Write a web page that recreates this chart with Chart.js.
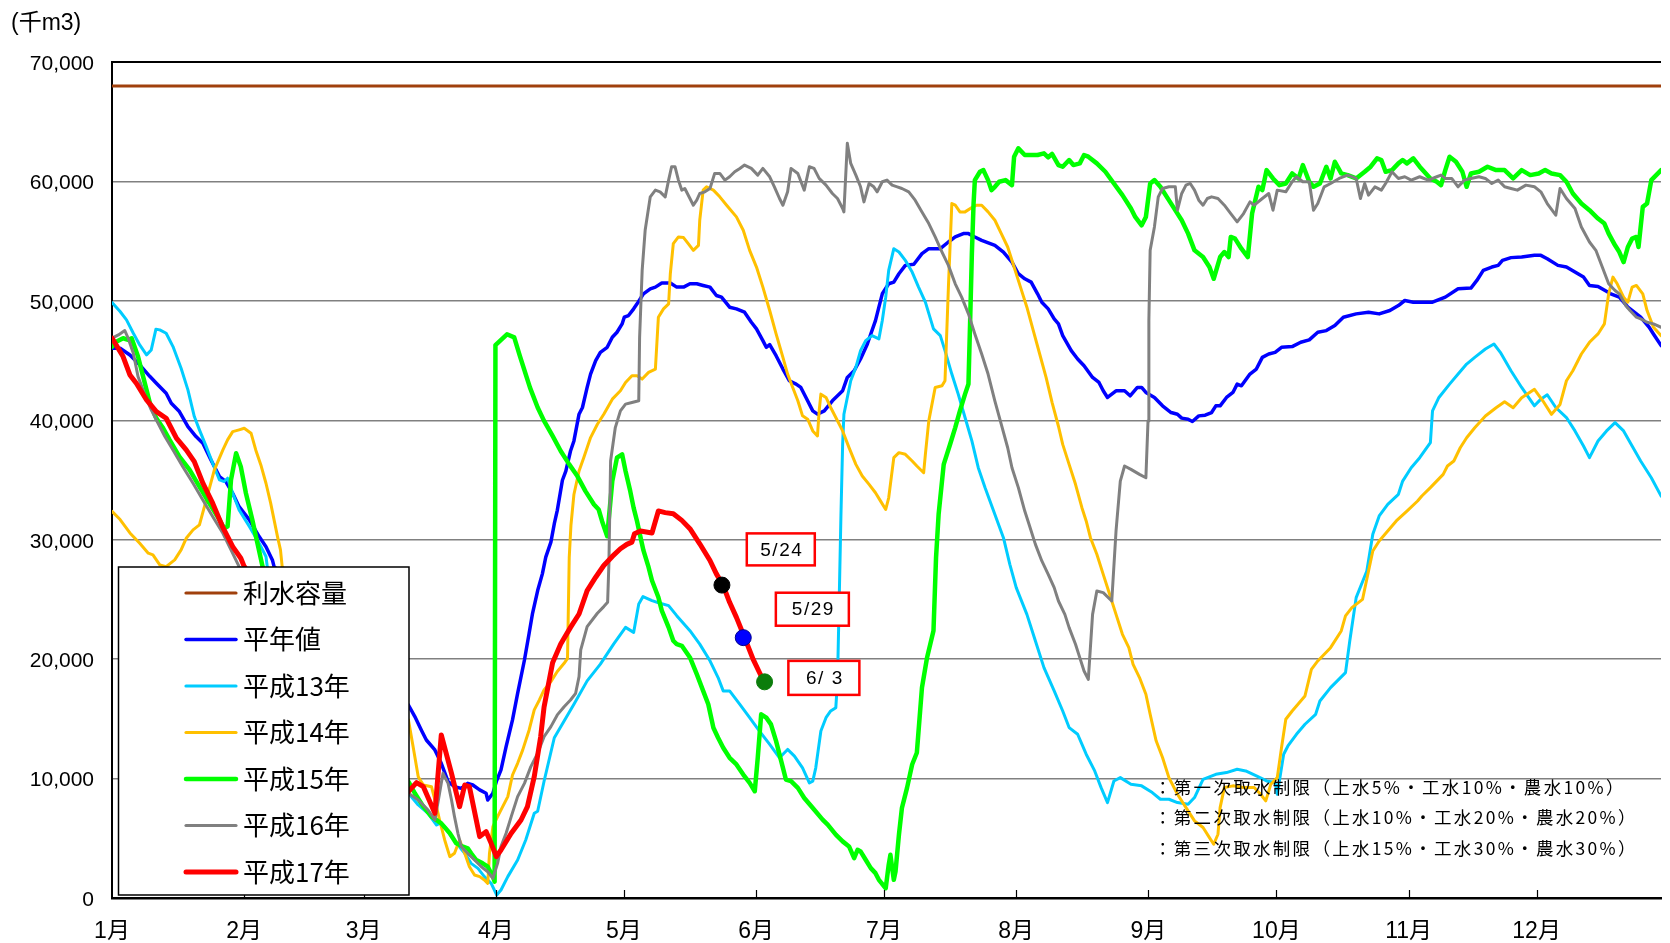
<!DOCTYPE html>
<html><head><meta charset="utf-8">
<script src="https://cdn.jsdelivr.net/npm/chart.js@4.4.1/dist/chart.umd.min.js"></script>
<style>html,body{margin:0;padding:0;background:#fff;overflow:hidden}canvas{display:block}</style>
</head><body>
<canvas id="c" width="1670" height="943"></canvas>
<script>
// ---- axis data ----
const monthStarts = [0,31,59,90,120,151,181,212,243,273,304,334];
const monthLabels = ['1月','2月','3月','4月','5月','6月','7月','8月','9月','10月','11月','12月'];
const yTicks = [0,10000,20000,30000,40000,50000,60000,70000];

// ---- series: [day of year, 千m3] ----
const capacity = [[0,68000],[363.2,68000]];
const normalYear = [[0,46030],[1.9,46030],[4.2,45470],[6.5,44640],[8.9,43660],[10.4,43100],[12.7,42270],[13.9,41430],[15.8,40730],[17.8,39470],[19.7,38640],[21.3,38080],[23.2,36680],[25.2,35290],[26.7,34870],[28.3,33890],[29.8,32770],[32.2,31660],[34.5,30260],[36.1,29420],[37.6,28310],[38,27750],
[69.5,16160],[71,15190],[72.6,14010],[73.7,13230],[75.7,12400],[77.2,11280],[78.8,9740],[80.3,9320],[81.9,9180],[83.4,9600],[84.6,9460],[86.2,9050],[87.7,8770],[88.1,8210],[89.3,8770],[90.1,9740],[91.2,10720],[92.4,12670],[93.9,14910],[95.1,17140],[96.7,19930],[97.8,22170],[98.6,23840],[99.8,25740],[100.9,27140],[101.7,28540],[102.9,29800],[103.7,31340],[104.4,32460],[105.6,34980],[106.4,35750],[107.5,37430],[108.3,38270],[109.5,40510],[110.3,41070],[111.4,42750],[112.2,43870],[113.4,44990],[114.5,45690],[116.1,46110],[117.3,46950],[118.4,47370],[119.6,48070],[120.1,48630],[121.1,48770],[122.3,49330],[123.1,49750],[124.6,50590],[126.2,51010],[127.4,51150],[128.9,51490],[130.9,51490],[132.4,51150],[134,51150],[135.5,51430],[137.1,51430],[138.6,51290],[140.2,51150],[141.7,50450],[142.9,50310],[144.8,49470],[146.4,49330],[148.3,49050],[149.9,48210],[151.1,47650],[152.6,46670],[153.4,46110],[154.2,46340],[155.7,45410],[157.3,44290],[158.8,43310],[160.4,43030],[161.5,42750],[162.7,41910],[164.3,40790],[165.4,40510],[167,40790],[168.9,41630],[171.3,42470],[172.4,43590],[174,44150],[175.5,45130],[177.1,46390],[177.9,47230],[179,48350],[179.8,49470],[180.6,50590],[182.1,51430],[183.3,51570],[184.5,52270],[186,52970],[188,53060],[189.9,53950],[191.5,54370],[194.2,54370],[196.1,54930],[197.7,55350],[199.6,55630],[200.8,55630],[202.3,55350],[203.9,55070],[207,54650],[209,54090],[211,53250],[212.5,52270],[214,51850],[215.5,51570],[217,50590],[218,49890],[219.5,49330],[220.9,48490],[221.9,48070],[222.9,47090],[224.9,45830],[226.4,45130],[227.9,44570],[229.9,43590],[231.4,43170],[232.4,42470],[233.4,41910],[235.4,42470],[237.4,42470],[238.7,42050],[240.4,42750],[241.4,42750],[242.4,42330],[244.4,41910],[246.3,41210],[248.3,40650],[249.8,40510],[250.8,40180],[252.3,40090],[253.3,39900],[254.8,40370],[256.3,40430],[257.8,40650],[258.8,41210],[259.8,41210],[261.3,41910],[262.8,42330],[263.8,43030],[264.8,42890],[266.8,43870],[268.3,44290],[269.7,45270],[271.2,45550],[272.7,45690],[274.2,46110],[276.7,46170],[278.7,46530],[280.7,46730],[282.7,47370],[284.7,47510],[286.7,47930],[288.7,48630],[291.7,48910],[294.6,49050],[297.1,48910],[299.6,49190],[301.6,49610],[303.1,50030],[305.1,49890],[309.6,49890],[312.6,50310],[315.6,51010],[318.6,51070],[320,51710],[321.5,52550],[323.5,52830],[325,52970],[326,53390],[328,53620],[330.5,53670],[333.5,53810],[335,53810],[336.5,53530],[339,52970],[341,52830],[343,52410],[345,51990],[346.4,51290],[348.4,51210],[351.4,50590],[353.4,50310],[355.4,49470],[358.4,48630],[360.4,47790],[361.4,47230],[363.2,46250]];
const h13 = [[0,49860],[1.9,49110],[3.4,48410],[5,47290],[6.5,46310],[8.1,45480],[9.2,45890],[10.3,47630],[11.2,47570],[12.7,47290],[14.3,46170],[16.2,44360],[17.8,42550],[19.3,40310],[20.5,39200],[22.1,37800],[23.6,36400],[25.2,35010],[26.3,34870],[27.1,35150],[28.3,33890],[29.8,32500],[32.2,31100],[34.5,29700],[36.1,28590],[36.4,27750],
[69.5,8770],[71.8,7790],[74.1,7090],[76.1,6110],[76.8,6250],[78,5970],[79.6,5140],[81.1,4440],[82.7,3740],[84.2,2900],[85.8,2480],[87.3,1790],[88.9,1230],[90.2,250],[91.2,670],[92.8,1790],[95.1,3180],[97,4860],[99,7090],[99.8,7260],[101.3,9780],[103.7,13420],[106,14820],[108.3,16220],[111.4,18180],[114.5,19580],[117.6,21260],[120.4,22660],[122.3,22240],[123.5,24620],[124.5,25240],[126.6,24900],[128.5,24680],[130.5,24480],[132.4,23640],[135.5,22380],[137.8,21260],[140.2,19860],[142.1,18460],[143.3,17340],[144.8,17340],[147.2,16220],[149.5,15100],[151.8,13980],[154.2,12860],[156.5,11740],[158.4,12440],[160,11880],[161.9,10900],[163.5,9640],[164.3,9780],[165,10900],[166.2,13980],[167.4,15100],[168.5,15660],[169.7,15940],[170.1,18180],[170.5,25000],[170.9,32000],[171.3,38000],[171.6,40510],[173.2,43310],[174.4,44430],[175.5,45830],[176.7,46670],[178.2,47090],[179.8,46810],[180.6,48350],[181.4,50310],[182.1,52550],[183.3,54370],[184.5,54090],[186,53390],[187.6,52410],[189.1,51150],[190.7,49890],[192.6,47650],[194.2,47090],[195.3,45830],[196.9,43870],[198.4,42190],[200,40230],[201.6,38270],[203.1,36030],[204.7,34350],[207,32110],[209,30170],[210.5,27940],[212,25990],[214.5,23750],[216.5,21520],[218.5,19290],[220.9,17340],[222.9,15660],[224.4,14270],[226.4,13710],[228.4,12040],[230.4,10640],[231.9,9240],[233.4,7990],[234.9,9800],[236.4,10080],[238.9,9530],[241.4,9390],[243.9,8830],[245.8,8270],[247.8,8270],[249.8,7990],[252.3,7850],[253.8,8410],[255.8,9940],[258.8,10360],[261.3,10500],[263.8,10780],[265.8,10640],[268.3,10220],[270.7,9800],[272.7,9670],[273.2,8690],[274.7,12040],[275.7,12730],[277.7,13710],[279.7,14550],[282.2,15380],[283.2,16500],[285.7,17620],[289.2,18870],[290.2,21520],[291.7,25150],[294.2,27380],[295.6,30450],[297.1,31990],[299.1,32960],[301.6,33800],[302.6,34910],[304.6,36030],[306.6,36870],[309.1,38130],[309.6,40790],[311.1,41910],[313.6,43030],[315.6,43870],[317.6,44710],[319.5,45270],[322,45970],[324,46390],[325.5,45690],[328,44150],[330.5,42750],[333.5,41210],[335,41770],[336.5,42140],[338.5,41070],[341,40230],[343,39110],[345,37850],[346.4,36870],[348.4,38270],[350.4,39110],[352.4,39810],[354.4,39110],[356.4,37850],[358.4,36590],[360.9,35190],[363.2,33650]];
const h14 = [[0,32380],[1.9,31690],[4.2,30570],[6.5,29700],[8.5,28870],[9.6,28730],[11.2,27890],[12.7,27750],[14.7,28310],[16.2,29150],[17.4,30120],[19,30820],[20.5,31240],[22.1,33330],[24,35850],[26,37520],[27.1,38360],[28.3,39050],[29.8,39200],[31,39330],[32.6,38920],[33.7,37520],[34.9,36260],[36.1,34730],[37.2,33060],[38,31660],[38.8,30260],[39.5,29150],[39.9,27750],
[69.5,14910],[70.6,12670],[71.8,10160],[73,9460],[74.9,9320],[75.7,8210],[76.8,6530],[78,4860],[79.2,3460],[80.3,3740],[81.5,4860],[82.7,3740],[83.8,2620],[85,1930],[86.2,1790],[87.3,1510],[88.1,1230],[88.5,3740],[89.3,5970],[90.4,6810],[91.6,7650],[92.8,8490],[93.9,10300],[95.1,11280],[96.3,12400],[97.8,14070],[99,15750],[100.2,16580],[101.3,17420],[102.9,18120],[104.4,18960],[106,19650],[106.8,20070],[107.2,28500],[107.6,31200],[108.3,33790],[109.5,35750],[110.6,36870],[112.2,38550],[113.8,39670],[115.3,40510],[117.3,41770],[119.2,42470],[120.4,43170],[121.9,43730],[123.1,43730],[124.3,43450],[125.8,44010],[127.4,44290],[128.1,48630],[129.3,49330],[130.5,49750],[130.9,52270],[131.6,54790],[132.8,55350],[134,55300],[135.1,54790],[136.3,54230],[137.5,54650],[137.8,56750],[138.6,59270],[139.4,59550],[141,59270],[142.5,58710],[144.1,58010],[146.4,57030],[148,55910],[149.5,54230],[151.1,52830],[152.6,51150],[154.2,49190],[155.7,47230],[157.3,45270],[158.4,43870],[159.6,42750],[160.8,41630],[161.9,40370],[163.1,40090],[164.3,39110],[165.4,38690],[165.8,40790],[166.2,42190],[167.4,41910],[168.5,41070],[169.7,40230],[171.3,39110],[172.8,37710],[174.4,36310],[175.9,35330],[177.5,34630],[179,33930],[180.2,33230],[181.4,32530],[182.1,33510],[183.3,36870],[184.5,37290],[186,37150],[187.6,36590],[188.7,36170],[190.3,35610],[190.7,37150],[191.5,39950],[193,42750],[194.6,42890],[195.3,43310],[196.1,51150],[196.9,58150],[197.7,58010],[198.8,57450],[200,57450],[201.6,57820],[202.7,58010],[203.9,58010],[205.4,57450],[207,56750],[208.5,55630],[210,54510],[211.5,52830],[213,51150],[214.5,49470],[216,47510],[217.5,45550],[219,43590],[220.4,41500],[221.9,39500],[222.9,37980],[224.4,36310],[225.9,34640],[227.4,32680],[228.4,31570],[229.4,30170],[230.9,28780],[232.4,27100],[233.9,25430],[235.4,23750],[236.9,22080],[238.4,20960],[239.4,19570],[240.9,18460],[242.4,17060],[243.4,15390],[244.8,13160],[246.3,11760],[247.8,10080],[249.8,8690],[251.8,7570],[253.8,6460],[255.8,5900],[257.3,5060],[258.3,4500],[259.3,5340],[259.8,7570],[260.8,9250],[262.8,9390],[265.3,9250],[267.8,9250],[269.3,8690],[270.5,8130],[271.7,9530],[273.2,10080],[274.2,12590],[275.2,14970],[276.7,15660],[278.7,16500],[279.7,16920],[281.2,19150],[282.7,19850],[285.7,20960],[288.2,22360],[289.2,23620],[290.7,24310],[293.2,25010],[294.6,27380],[295.6,29060],[297.1,29890],[299.1,30730],[301.1,31570],[303.6,32400],[306.1,33240],[307.1,33660],[309.1,34360],[312.1,35470],[313.1,36170],[314.6,36590],[316.1,37700],[317.6,38540],[319.5,39380],[322,40360],[324.5,41050],[326.5,41550],[328.5,41050],[330.5,41890],[333.5,42590],[335.5,41610],[337.5,40500],[339.5,41330],[341,43310],[342.5,44150],[344.5,45550],[346.4,46530],[348.4,47230],[349.9,48070],[350.9,50590],[351.9,51990],[352.9,51430],[354.4,50310],[355.4,49890],[356.4,51150],[357.4,51290],[358.9,50590],[359.9,49190],[361.4,47790],[363.2,47090]];
const h15 = [[0,46170],[1.1,46590],[2.6,46870],[3.8,46730],[4.6,46870],[6.1,45340],[7.3,43660],[8.9,41430],[10.4,40170],[12,39330],[13.5,38360],[15.8,36960],[18.2,35850],[20.5,34450],[22.8,33060],[25.2,31660],[26.3,30960],[27.1,31100],[27.9,35010],[29.1,37240],[30.2,36120],[31.4,33890],[32.9,31660],[34.1,29700],[35.3,27750],
[69.5,9740],[71,8770],[73,7650],[74.9,6810],[77.2,6250],[79.2,5420],[80.7,4580],[82.3,4300],[83.4,4160],[84.2,3740],[85.4,3180],[86.9,2900],[88.1,2620],[89.3,1790],[89.7,1370],[89.9,46300],[92.6,47200],[94.3,46940],[95.6,45420],[98,42730],[99.8,41070],[101.3,39950],[103.3,38690],[105.2,37430],[107.2,36310],[109.1,35330],[111,34070],[113,32950],[114.1,32530],[114.9,31550],[116.1,30290],[117.3,34910],[118.4,36870],[119.6,37150],[120.4,35750],[121.5,34070],[122.3,32670],[123.1,31550],[123.9,30220],[124.6,29100],[125.8,27700],[126.6,26580],[128.1,25180],[128.9,24060],[130.5,22660],[131.6,21540],[132.4,21260],[133.6,21120],[135.5,20140],[137.1,18740],[138.6,17340],[139.8,16220],[141,14260],[142.1,13420],[143.3,12580],[144.8,11740],[146.4,11180],[148,10340],[149.5,9640],[150.7,8940],[151.4,11740],[152.2,15380],[153.4,15100],[154.5,14540],[155.7,13140],[156.9,11460],[158,9920],[159.2,9780],[160.8,9220],[162.3,8380],[164.3,7540],[166.6,6560],[167.8,6140],[169.7,5300],[171.3,4740],[172.8,4320],[174,3340],[174.8,4040],[175.5,3900],[176.7,3200],[177.9,2500],[179,2080],[179.8,1520],[181.4,820],[182.1,2780],[182.5,3620],[183.3,1520],[183.7,2220],[184.5,5300],[185.2,7540],[186.4,9220],[187.6,11180],[188.7,12160],[189.9,17620],[191.1,20140],[192.6,22380],[193.2,28500],[193.8,32110],[195,36310],[196.5,37990],[197.7,39390],[198.8,40790],[200,42190],[200.8,43030],[201.2,48350],[201.6,53950],[202,58150],[202.3,60110],[203.5,60810],[204.3,60950],[205.4,60110],[206.2,59270],[207,59550],[208,59970],[209.5,60110],[211,59690],[211.5,62070],[212.5,62770],[214,62210],[217,62210],[218.5,62350],[219.5,62020],[220.4,62300],[221.9,61370],[222.9,61230],[224.4,61790],[225.4,61370],[226.9,61510],[227.9,62210],[228.9,62070],[230.9,61510],[232.9,60810],[234.9,59830],[236.9,58850],[238.9,57730],[239.9,57030],[241.4,56330],[242.4,57030],[243.4,59830],[244.4,60110],[245.8,59550],[247.3,58710],[248.8,57870],[250.8,56750],[252.3,55630],[253.8,54230],[255.8,53670],[257.3,52830],[258.3,51850],[259.8,53670],[260.8,54090],[261.8,53670],[262.3,55350],[263.3,55210],[264.8,54370],[266.3,53670],[267.3,57310],[268.8,59550],[269.7,59270],[270.7,60950],[272.2,60250],[273.7,59690],[275.2,59830],[276.7,60670],[278.2,60250],[279.2,61370],[280.7,59970],[281.7,59550],[283.2,59830],[284.7,61230],[285.7,60250],[286.7,61650],[288.2,60670],[289.7,60530],[291.7,60250],[293.7,60810],[295.1,61230],[296.6,61930],[297.6,61790],[298.6,60810],[300.1,60950],[301.6,61510],[302.6,61790],[303.6,61510],[305.1,61930],[306.6,61230],[309.1,60250],[310.6,59970],[311.6,59690],[312.6,60950],[313.6,62070],[315.1,61650],[316.6,60810],[317.6,59550],[318.6,60670],[320.5,60810],[322.5,61230],[324.5,60950],[326.5,60950],[328.5,60250],[330.5,60950],[332.5,60530],[334.5,60670],[336,60950],[337.5,60670],[339.5,60530],[341,59970],[342.5,58990],[344.5,58150],[346.4,57590],[348.4,56890],[349.9,56470],[350.9,55630],[352.4,54650],[353.4,54090],[354.4,53250],[355.4,54510],[356.4,55210],[357.4,55350],[357.9,54510],[358.9,57870],[359.9,58150],[360.9,60110],[363.2,60950]];
const h16 = [[0,46870],[1.5,47150],[3,47510],[3.8,46870],[5,45620],[6.1,43660],[7.7,42130],[9.2,40870],[10.8,39750],[12.4,38640],[14.3,37520],[16.6,36120],[19,34730],[21.3,33330],[23.6,31940],[26,30540],[27.9,29150],[29.8,27750],
[69.5,8770],[71.8,8210],[74.1,7370],[75.7,6530],[76.8,8770],[77.6,10440],[78.8,9600],[79.6,8210],[80.3,6810],[81.1,5420],[81.9,4300],[83.4,3740],[85,3180],[86.6,2620],[88.1,2200],[89.3,1650],[90.4,2900],[91.2,4300],[92.4,5420],[93.6,6810],[95.1,8490],[96.7,9600],[98.2,11000],[99.8,12120],[101.3,13510],[102.9,14350],[104.4,15330],[106,16020],[107.5,16580],[108.7,17140],[109.5,18540],[109.9,20770],[111.4,22720],[113.8,23840],[115.3,24400],[116.2,24760],[116.5,27980],[116.9,36590],[118,39390],[119.2,40790],[120.4,41350],[121.9,41490],[123.5,41630],[123.7,46950],[124.3,52550],[125,55910],[126.2,58710],[127.4,59270],[128.5,59130],[129.7,58710],[130.5,60110],[131.2,61230],[132,61230],[132.8,60110],[133.6,59270],[134.3,59410],[135.5,58570],[136.3,58010],[137.1,58430],[137.8,58990],[139,59130],[140.2,59410],[141.3,60670],[142.5,60670],[143.7,60110],[144.8,60390],[146,60810],[147.2,61090],[148.3,61370],[149.9,61090],[151.4,60530],[152.6,61090],[154.2,60390],[155.3,59550],[156.5,58570],[157.3,58010],[158.4,59130],[159.2,61090],[160.8,60670],[162.3,59270],[163.5,61230],[164.6,61090],[165.8,60250],[167.4,59690],[168.9,58990],[170.1,58570],[171.3,57730],[171.6,57450],[172.4,63190],[173.2,61510],[174.4,60530],[175.5,59550],[176.3,58290],[177.5,59830],[178.6,59550],[179.4,59130],[180.6,59970],[181.7,60110],[182.9,59690],[184.1,59550],[185.2,59410],[186.8,59130],[188.3,58430],[189.9,57450],[191.5,56470],[193,55350],[194.6,54090],[196.1,52970],[197.7,51430],[199.2,50310],[200.8,48910],[202.3,47230],[203.9,45550],[205.4,43870],[207,41610],[208.5,39660],[210,37700],[211,36030],[212.5,34360],[214,32400],[215,31290],[216.5,29610],[218,28220],[219.5,27100],[220.9,25990],[221.9,24870],[223.4,23750],[224.4,22640],[225.9,21240],[226.9,20130],[227.9,19010],[228.9,18310],[229.9,23750],[230.9,25710],[232.4,25570],[234.4,24870],[235.4,30730],[236.4,34910],[237.4,36170],[238.9,35890],[240.9,35470],[242.4,35190],[242.9,39950],[243.1,48350],[243.4,54230],[244.4,56190],[245.3,58710],[246.3,59410],[247.8,59550],[249.3,59550],[249.8,57590],[250.8,58990],[251.8,59690],[252.8,59830],[253.8,59270],[254.8,58430],[255.8,58010],[256.8,58570],[257.8,58710],[259.3,58570],[260.8,58010],[262.3,57310],[263.8,56610],[265.3,57310],[266.8,58290],[267.8,58010],[269.7,58570],[271.2,58990],[272.2,57590],[273.2,59270],[275.2,59130],[276.7,59970],[277.7,60390],[279.2,59970],[280.7,59970],[281.7,57590],[282.7,58150],[284.2,59550],[285.7,59830],[287.7,60250],[289.7,60530],[291.7,60250],[292.7,58570],[293.7,59830],[294.6,58850],[296.1,59550],[297.6,59270],[298.6,59830],[300.1,60810],[301.6,60250],[303.1,60390],[304.6,60110],[306.6,60390],[308.6,60110],[310.6,60390],[311.6,60530],[312.6,60250],[314.1,60250],[315.6,59550],[317.1,60110],[318.6,60250],[320.5,60390],[322,60250],[323.5,59830],[325,60110],[326.5,59550],[328,59410],[329.5,59270],[331.5,59690],[333.5,59550],[335,59130],[336.5,58150],[338.5,57170],[339.5,59410],[341,58570],[343,57730],[344.5,56190],[346.4,54930],[347.9,54230],[349.4,52830],[350.9,51430],[352.4,50870],[353.4,50590],[354.9,49610],[355.9,49190],[357.4,48630],[358.4,48490],[359.9,48210],[361.4,48070],[363.2,47790]];
const h17 = [[0,46880],[2.6,45340],[4.2,43800],[5.7,43100],[8.1,41710],[10.4,40730],[12.7,40170],[15.1,38500],[17.4,37520],[19.3,36540],[21.3,34730],[23.6,33060],[25.9,31100],[28.3,29420],[30.2,28450],[31,27750],
[69.5,8900],[71.4,9660],[73,9320],[75.7,7090],[77.2,13650],[79.6,10440],[81.5,7650],[82.7,9460],[83.8,9320],[86.2,5140],[87.7,5560],[88.9,4580],[90.1,3460],[91.2,4020],[93.6,5420],[95.9,6530],[97.4,7650],[99,10160],[100.5,13500],[101.3,16000],[103.3,19700],[105.2,21260],[107.5,22660],[109.5,23780],[111.4,25740],[113.4,26860],[115.3,27840],[117.3,28600],[119.2,29240],[120.7,29610],[121.9,29800],[122.5,30500],[123.9,30730],[126.6,30560],[128.1,32410],[129.7,32270],[131.6,32180],[133.6,31620],[135.5,30920],[137.8,29660],[140.2,28260],[141.7,27140],[143.3,26160],[144.8,24760],[146.4,23500],[148.3,21820],[150.3,20000],[151.8,18880],[152.6,18300]];

// ---- date markers on 平成17年 ----
const markerDays = [143,148,153];
const markerValues = [26200,21800,18100];
const markerLabels = ['5/24','5/29','6/ 3'];
const markerColors = ['#000000','#0000FF','#0B7D0B'];
// label box centres (day, value)
const markerBoxDays = [156.8,164.2,166.9];
const markerBoxValues = [29190,24180,18430];
const markerBoxSizes = [[68,32],[73,33],[71,34]];

const restrictionTexts = [
  '：第一次取水制限（上水5%・工水10%・農水10%）',
  '：第二次取水制限（上水10%・工水20%・農水20%）',
  '：第三次取水制限（上水15%・工水30%・農水30%）'
];
const unitLabel = '(千m3)';

const toXY = a => a.map(p => ({x: p[0], y: p[1]}));
const mk = (label, data, color, width, order) => ({
  label, data: toXY(data), borderColor: color, backgroundColor: color,
  borderWidth: width, pointRadius: 0, tension: 0, fill: false, order,
  borderCapStyle: 'round', borderJoinStyle: 'round', inLegend: true
});

const datasets = [
  mk('利水容量', capacity, '#A0400C', 3, 6),
  mk('平年値', normalYear, '#0000FF', 3.5, 5),
  mk('平成13年', h13, '#00CCFF', 3, 4),
  mk('平成14年', h14, '#FFC000', 3, 3),
  mk('平成15年', h15, '#00FF00', 4.5, 2),
  mk('平成16年', h16, '#808080', 3, 1),
  mk('平成17年', h17, '#FF0000', 5, 0),
  {
    label: 'markers', type: 'scatter', inLegend: false, order: -1,
    data: markerDays.map((d, i) => ({x: d, y: markerValues[i]})),
    pointRadius: 8, pointBackgroundColor: markerColors,
    pointBorderColor: ['#000000','#00008B','#0B7D0B'], pointBorderWidth: 1, showLine: false
  }
];

const CJK = '"Noto Sans CJK JP"';
const extras = {
  id: 'extras',
  afterDatasetsDraw(chart) {
    const {ctx, chartArea: ca, scales: {x, y}} = chart;
    ctx.save();
    // inward month tick marks
    ctx.strokeStyle = '#000'; ctx.lineWidth = 1.2;
    monthStarts.slice(1).forEach(d => {
      const px = Math.round(x.getPixelForValue(d)) + 0.5;
      ctx.beginPath(); ctx.moveTo(px, ca.bottom); ctx.lineTo(px, ca.bottom - 8); ctx.stroke();
    });
    // marker label boxes
    ctx.font = '19px "Liberation Sans"';
    ctx.textAlign = 'center'; ctx.textBaseline = 'middle';
    try { ctx.letterSpacing = '1.5px'; } catch (e) {}
    markerLabels.forEach((t, i) => {
      const cx = x.getPixelForValue(markerBoxDays[i]);
      const cy = y.getPixelForValue(markerBoxValues[i]);
      const [w, h] = markerBoxSizes[i];
      ctx.fillStyle = '#fff'; ctx.fillRect(cx - w/2, cy - h/2, w, h);
      ctx.strokeStyle = '#FF0000'; ctx.lineWidth = 2.5;
      ctx.strokeRect(cx - w/2, cy - h/2, w, h);
      ctx.fillStyle = '#000'; ctx.fillText(t, cx + 1, cy + 1);
    });
    // legend box
    const lx = 118.5, ly = 567, lw = 290.5, lh = 328;
    ctx.fillStyle = '#fff'; ctx.fillRect(lx, ly, lw, lh);
    ctx.strokeStyle = '#000'; ctx.lineWidth = 1.5; ctx.strokeRect(lx, ly, lw, lh);
    try { ctx.letterSpacing = '0px'; } catch (e) {}
    ctx.font = '26px ' + CJK; ctx.textAlign = 'left'; ctx.textBaseline = 'middle';
    const entries = chart.data.datasets.filter(d => d.inLegend);
    entries.forEach((d, i) => {
      const ey = 593 + i * 46.5;
      ctx.strokeStyle = d.borderColor; ctx.lineWidth = Math.max(3.2, d.borderWidth);
      ctx.lineCap = 'round';
      ctx.beginPath(); ctx.moveTo(186, ey); ctx.lineTo(236, ey); ctx.stroke();
      ctx.fillStyle = '#000'; ctx.fillText(d.label, 243, ey);
    });
    // restriction notes
    ctx.font = '17.5px ' + CJK;
    try { ctx.letterSpacing = '2.3px'; } catch (e) {}
    restrictionTexts.forEach((t, i) => {
      ctx.fillStyle = '#000'; ctx.fillText(t, 1154, 787 + i * 30.5);
    });
    ctx.restore();
  },
  afterDraw(chart) {
    const ctx = chart.ctx;
    ctx.save();
    ctx.font = '23px "Liberation Sans", ' + CJK;
    ctx.fillStyle = '#000'; ctx.textAlign = 'left'; ctx.textBaseline = 'middle';
    ctx.fillText(unitLabel, 11, 24);
    ctx.restore();
  }
};

new Chart(document.getElementById('c'), {
  type: 'line',
  data: { datasets },
  plugins: [extras],
  options: {
    responsive: false, animation: false, devicePixelRatio: 1,
    layout: { padding: { top: 62, right: 0, bottom: 0, left: 0 } },
    plugins: { legend: { display: false }, tooltip: { enabled: false } },
    scales: {
      x: {
        type: 'linear', min: 0, max: 363.17,
        afterBuildTicks: s => { s.ticks = monthStarts.map(v => ({value: v})); },
        afterFit: s => { s.height = 45; },
        ticks: {
          autoSkip: false, maxRotation: 0, padding: 20, color: '#000',
          font: { size: 23, family: '"Liberation Sans", ' + CJK },
          callback: v => monthLabels[monthStarts.indexOf(v)]
        },
        grid: { display: false, drawTicks: false },
        border: { color: '#000', width: 2.5 }
      },
      y: {
        min: 0, max: 70000,
        afterBuildTicks: s => { s.ticks = yTicks.map(v => ({value: v})); },
        afterFit: s => { s.width = 112; },
        ticks: {
          padding: 18, color: '#000', labelOffset: 2,
          font: { size: 21, family: '"Liberation Sans"' },
          callback: v => v.toLocaleString('en-US')
        },
        grid: {
          drawTicks: false,
          color: c => c.tick && c.tick.value === 70000 ? '#000' : (c.tick && c.tick.value === 0 ? 'rgba(0,0,0,0)' : '#808080'),
          lineWidth: c => c.tick && c.tick.value === 70000 ? 2 : 1.5
        },
        border: { color: '#000', width: 2 }
      }
    }
  }
});
</script>
</body></html>
